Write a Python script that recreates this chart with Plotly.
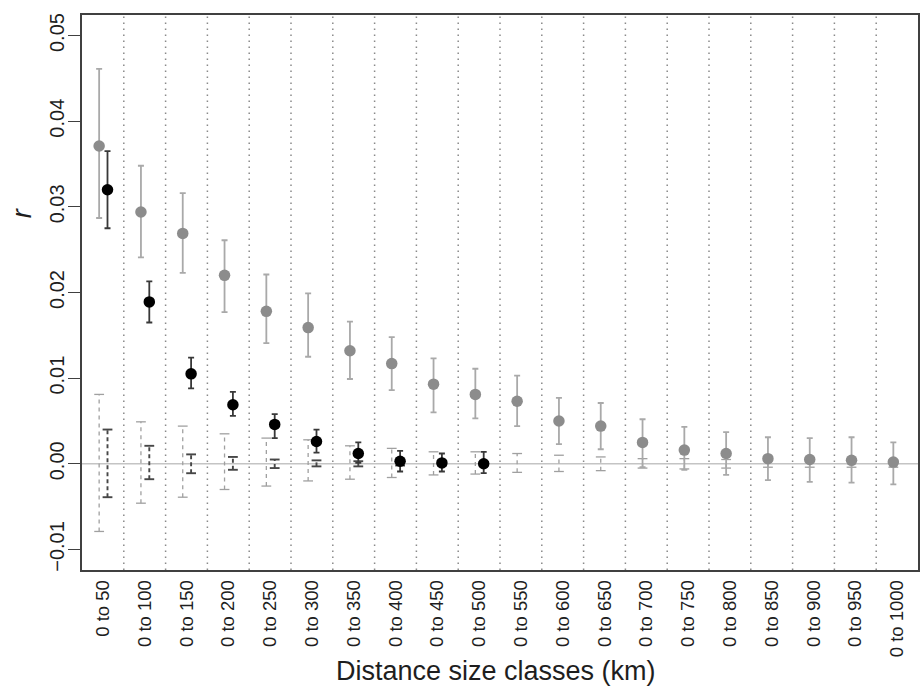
import plotly.graph_objects as go

# ---------------- data ----------------
categories = ["0 to %d" % d for d in range(50, 1001, 50)]

gray_r  = [0.0371, 0.0294, 0.0269, 0.0220, 0.0178, 0.0159, 0.0132, 0.0117, 0.0093, 0.0081,
           0.0073, 0.0050, 0.0044, 0.0025, 0.0016, 0.0012, 0.0006, 0.0005, 0.0004, 0.0002]
gray_hi = [0.0461, 0.0348, 0.0316, 0.0261, 0.0221, 0.0199, 0.0166, 0.0148, 0.0123, 0.0111,
           0.0103, 0.0077, 0.0071, 0.0052, 0.0043, 0.0037, 0.0031, 0.0030, 0.0031, 0.0025]
gray_lo = [0.0287, 0.0241, 0.0223, 0.0177, 0.0141, 0.0125, 0.0099, 0.0086, 0.0060, 0.0053,
           0.0044, 0.0023, 0.0017, -0.0004, -0.0007, -0.0013, -0.0019, -0.0021, -0.0022, -0.0024]

black_r  = [0.0320, 0.0189, 0.0105, 0.0069, 0.0046, 0.0026, 0.0012, 0.0003, 0.0001, 0.0000]
black_hi = [0.0365, 0.0213, 0.0124, 0.0084, 0.0058, 0.0040, 0.0025, 0.0015, 0.0012, 0.0014]
black_lo = [0.0275, 0.0165, 0.0088, 0.0056, 0.0030, 0.0013, 0.0001, -0.0009, -0.0009, -0.0011]

gray_null_hi = [0.0081, 0.0049, 0.0044, 0.0035, 0.0030, 0.0028, 0.0021, 0.0018, 0.0014, 0.0014,
                0.0012, 0.0010, 0.0008, 0.0006, 0.0006, 0.0005, 0.0004, 0.0004, 0.0004, 0.0004]
gray_null_lo = [-0.0079, -0.0046, -0.0039, -0.0030, -0.0026, -0.0020, -0.0018, -0.0016, -0.0013, -0.0012,
                -0.0010, -0.0009, -0.0008, -0.0005, -0.0006, -0.0005, -0.0004, -0.0004, -0.0004, -0.0004]

black_null_hi = [0.0040, 0.0021, 0.0011, 0.0008, 0.0005, 0.0004, 0.0003, 0.0002, 0.0002, 0.0002]
black_null_lo = [-0.0039, -0.0018, -0.0011, -0.0007, -0.0005, -0.0003, -0.0003, -0.0002, -0.0002, -0.0002]

y_ticks = [-0.01, 0.00, 0.01, 0.02, 0.03, 0.04, 0.05]
y_tick_labels = ["\u22120.01", "0.00", "0.01", "0.02", "0.03", "0.04", "0.05"]

# ---------------- geometry helpers ----------------
n = len(categories)
pos = list(range(1, n + 1))
GRAY_OFF = -0.09
BLACK_OFF = 0.11
xg = [p + GRAY_OFF for p in pos]
xb = [p + BLACK_OFF for p in pos[:len(black_r)]]

FONT = "Liberation Sans, Arial, Helvetica, sans-serif"
TXT = "#1e1e1e"
fig = go.Figure()

# dotted separators between classes
sx, sy = [], []
for k in range(1, n):
    sx += [k + 0.5, k + 0.5, None]
    sy += [-0.0124, 0.0524, None]
fig.add_trace(go.Scatter(x=sx, y=sy, mode="lines", hoverinfo="skip", showlegend=False,
                         line=dict(color="#8a8a8a", width=1.5, dash="1.5px,4.5px")))

# zero line
fig.add_trace(go.Scatter(x=[0.5, n + 0.5], y=[0, 0], mode="lines", hoverinfo="skip",
                         showlegend=False, line=dict(color="#c4c4c4", width=1.6)))


def null_bars(xs, hi, lo, color, width, dash, capsize):
    lx, ly = [], []
    for x, h, l in zip(xs, hi, lo):
        lx += [x, x, None]
        ly += [l, h, None]
    fig.add_trace(go.Scatter(x=lx, y=ly, mode="lines", hoverinfo="skip", showlegend=False,
                             line=dict(color=color, width=width, dash=dash)))
    fig.add_trace(go.Scatter(x=list(xs) + list(xs), y=list(hi) + list(lo), mode="markers",
                             hoverinfo="skip", showlegend=False,
                             marker=dict(symbol="line-ew", size=capsize,
                                         line=dict(color=color, width=width))))


null_bars(xg, gray_null_hi, gray_null_lo, "#a0a0a0", 1.3, "4px,4px", 7)
null_bars(xb, black_null_hi, black_null_lo, "#474747", 1.9, "4px,3px", 7)

# observed gray series
fig.add_trace(go.Scatter(
    x=xg, y=gray_r, mode="markers", showlegend=False,
    marker=dict(size=11.5, color="#8c8c8c"),
    error_y=dict(type="data", symmetric=False,
                 array=[h - v for h, v in zip(gray_hi, gray_r)],
                 arrayminus=[v - l for v, l in zip(gray_r, gray_lo)],
                 color="#a9a9a9", thickness=1.8, width=3)))

# observed black series
fig.add_trace(go.Scatter(
    x=xb, y=black_r, mode="markers", showlegend=False,
    marker=dict(size=11.5, color="#000000"),
    error_y=dict(type="data", symmetric=False,
                 array=[h - v for h, v in zip(black_hi, black_r)],
                 arrayminus=[v - l for v, l in zip(black_r, black_lo)],
                 color="#383838", thickness=1.8, width=3)))

L, R, T, B = 82, 1, 15, 121
W, H = 921, 691
plot_w = W - L - R
plot_h = H - T - B

fig.update_layout(
    width=W, height=H,
    margin=dict(l=L, r=R, t=T, b=B),
    paper_bgcolor="white", plot_bgcolor="white",
    font=dict(family=FONT, color=TXT),
    xaxis=dict(range=[0.5, n + 0.5], tickvals=pos, ticktext=categories, tickangle=-90,
               ticks="", showgrid=False, zeroline=False, showline=True, mirror=True,
               linecolor="#404040", linewidth=1.5, tickfont=dict(size=18.5, family=FONT, color=TXT),
               ticklabelstandoff=1),
    yaxis=dict(range=[-0.0124, 0.0524], tickvals=y_ticks, ticktext=y_tick_labels,
               tickangle=-90, ticks="outside", ticklen=12, tickwidth=1.3, tickcolor="#404040",
               showgrid=False, zeroline=False, showline=True, mirror=True,
               linecolor="#404040", linewidth=1.5, tickfont=dict(size=20, family=FONT, color=TXT),
               ticklabelstandoff=-4),
    annotations=[
        dict(text="Distance size classes (km)", xref="paper", yref="paper",
             x=(497 - L) / plot_w, y=(H - B - 671) / plot_h,
             xanchor="center", yanchor="middle", showarrow=False,
             font=dict(size=27, family=FONT, color=TXT)),
        dict(text="<i>r</i>", xref="paper", yref="paper",
             x=(22 - L) / plot_w, y=(H - B - 213) / plot_h,
             xanchor="center", yanchor="middle", showarrow=False, textangle=-90,
             font=dict(size=27, family=FONT, color=TXT)),
    ],
)

fig.write_html("out.html")
